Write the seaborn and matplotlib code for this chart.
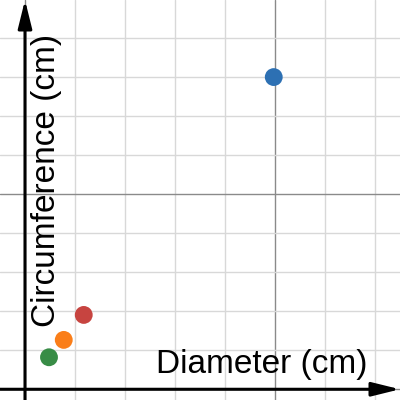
import numpy as np
import pandas as pd
import matplotlib
matplotlib.use('Agg')
import matplotlib.pyplot as plt
import seaborn as sns

sns.set_style('white')
plt.rcParams['font.family'] = ['Liberation Sans', 'DejaVu Sans']

# measurements (cm)
labels = ['blue', 'green', 'orange', 'red']
diameter = [9.95, 0.96, 1.55, 2.35]
circumference = [32.0, 3.28, 5.06, 7.62]
colors = ['#2d70b3', '#388c46', '#fa7e19', '#c74440']

df = pd.DataFrame({'pt': labels, 'Diameter': diameter, 'Circumference': circumference})

fig = plt.figure(figsize=(4, 4), dpi=100)
ax = fig.add_axes([0, 0, 1, 1])

ax.set_xlim(-1, 15)
ax.set_ylim(-1.1, 39.9)

# desmos-style grid
ax.set_xticks(np.arange(0, 15, 10))
ax.set_xticks(np.arange(0, 15, 2), minor=True)
ax.set_yticks(np.arange(0, 40, 20))
ax.set_yticks(np.arange(0, 40, 4), minor=True)
ax.grid(which='minor', color='#d8d8d8', lw=1.0, zorder=0)
ax.grid(which='major', color='#8a8a8a', lw=1.0, zorder=0)
ax.tick_params(which='both', length=0, labelbottom=False, labelleft=False)
ax.set_axisbelow(True)
for s in ax.spines.values():
    s.set_visible(False)

# axes with arrowheads
arrow = dict(arrowstyle='-|>,head_length=1.7,head_width=0.42', mutation_scale=10,
             color='k', lw=2.2, shrinkA=0, shrinkB=0)
ax.annotate('', xy=(1, 0), xytext=(0, 0), xycoords=('axes fraction', 'data'),
            textcoords=('axes fraction', 'data'), arrowprops=arrow, zorder=3)
ax.annotate('', xy=(0, 1), xytext=(0, 0), xycoords=('data', 'axes fraction'),
            textcoords=('data', 'axes fraction'), arrowprops=arrow, zorder=3)

sns.scatterplot(data=df, x='Diameter', y='Circumference', hue='pt', palette=colors,
                s=165, edgecolor='none', legend=False, ax=ax, zorder=4)
ax.set_xlabel('')
ax.set_ylabel('')

ax.text(0.92, 1 - 373 / 400, 'Diameter (cm)', transform=ax.transAxes,
        ha='right', va='baseline', fontsize=24, color='black')
ax.text(55 / 400, 1 - 327 / 400, 'Circumference (cm)', transform=ax.transAxes,
        rotation=90, rotation_mode='anchor', ha='left', va='baseline', fontsize=24,
        color='black')

fig.savefig('out.png', dpi=100)
